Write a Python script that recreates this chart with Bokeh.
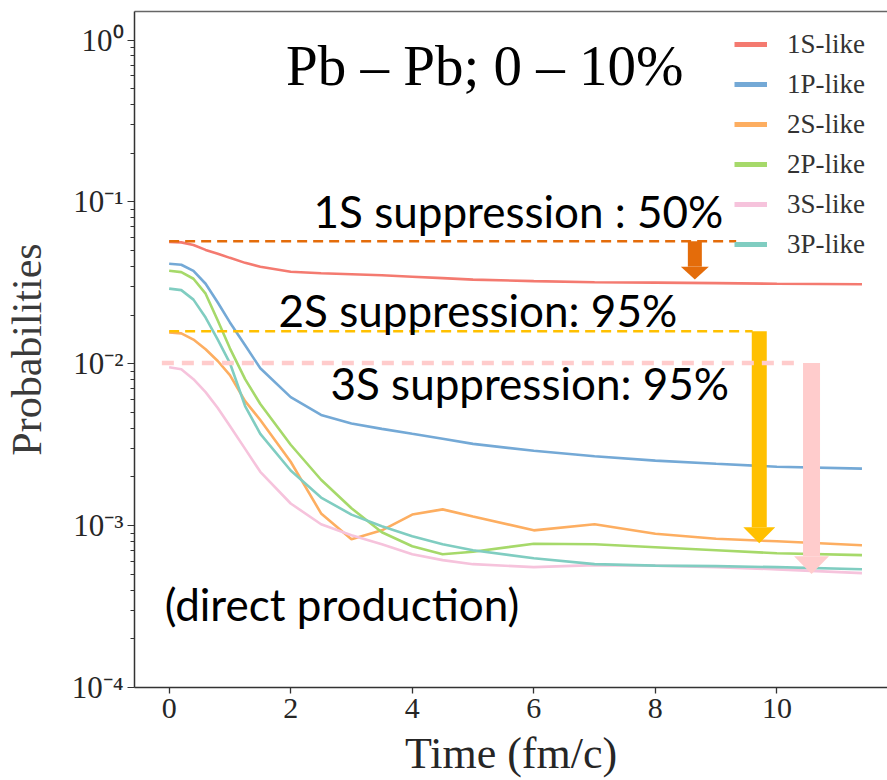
import numpy as np
from bokeh.plotting import figure
from bokeh.models import (Range1d, LinearAxis, FixedTicker, CustomJSTickFormatter,
                          Legend, LegendItem)
from bokeh.core.properties import value
from bokeh.embed import file_html
from bokeh.resources import INLINE

# ---------------- data ----------------
time = [0, 0.2, 0.4, 0.6, 0.8, 1.0, 1.25, 1.5, 2.0, 2.5, 3.0, 3.5, 4.0, 4.5, 5.0,
        6.0, 7.0, 8.0, 9.0, 10.0, 11.4]

s1_like = [0.0566, 0.0562, 0.0542, 0.0505, 0.0478, 0.0451, 0.0420, 0.0397, 0.0370,
           0.0362, 0.0357, 0.0352, 0.0345, 0.0338, 0.0331, 0.0324, 0.0319, 0.0317,
           0.0315, 0.0312, 0.0310]
p1_like = [0.0415, 0.0409, 0.0375, 0.0312, 0.0239, 0.0180, 0.0130, 0.00938, 0.00622,
           0.00483, 0.00428, 0.00396, 0.00369, 0.00344, 0.00320, 0.00290, 0.00268,
           0.00252, 0.00241, 0.00231, 0.00225]
s2_like = [0.0156, 0.0154, 0.0141, 0.0123, 0.0104, 0.00850, 0.00588, 0.00449, 0.00248,
           0.00119, 0.000823, 0.000935, 0.00117, 0.00126, 0.00114, 0.000935, 0.00102,
           0.000890, 0.000829, 0.000800, 0.000756]
p2_like = [0.0375, 0.0368, 0.0335, 0.0271, 0.0185, 0.01245, 0.00803, 0.00564, 0.00316,
           0.00192, 0.00128, 0.000910, 0.000746, 0.000666, 0.000690, 0.000772,
           0.000767, 0.000735, 0.000705, 0.000675, 0.000657]
s3_like = [0.00952, 0.00925, 0.00803, 0.00668, 0.00533, 0.00413, 0.00298, 0.00215,
           0.00137, 0.00102, 0.000871, 0.000767, 0.000666, 0.000612, 0.000578,
           0.000554, 0.000570, 0.000566, 0.000554, 0.000537, 0.000509]
p3_like = [0.0291, 0.0285, 0.0249, 0.0193, 0.0141, 0.0101, 0.00548, 0.00369, 0.00219,
           0.00149, 0.00117, 0.00099, 0.000859, 0.000767, 0.000705, 0.000629,
           0.000578, 0.000566, 0.000562, 0.000554, 0.000538]

series_labels = ["1S-like", "1P-like", "2S-like", "2P-like", "3S-like", "3P-like"]
series_values = [s1_like, p1_like, s2_like, p2_like, s3_like, p3_like]
series_colors = ["#f47a70", "#74a9d6", "#fdae61", "#a6d96a", "#f6c3dc", "#80cdc1"]

# suppression reference levels (initial yields) and arrow tips (final yields)
supp_labels = ["1S suppression : 50%", "2S suppression: 95%", "3S suppression: 95%"]
supp_levels = [0.0571, 0.0159, 0.0101]
supp_tips = [0.0331, 0.000778, 0.000502]
supp_line_start = [0.0, 0.0, -0.12]
supp_line_end = [9.33, 9.60, 10.28]
supp_arrow_x = [8.65, 9.71, 10.57]
supp_colors = ["#e46c0a", "#ffc000", "#ffcccc"]

title_text = "Pb \u2013 Pb; 0 \u2013 10%"
x_ticks = [0, 2, 4, 6, 8, 10]
y_exponents = [-4, -3, -2, -1, 0]

# ---------------- figure ----------------
X0, X1 = -0.57, 11.82
Y0, Y1 = 1e-4, 1.5
W, H = 887, 780
BL, BR, BT, BB = 133, 0, 11, 90
FRAME_W = W - BL - BR
FRAME_H = H - BT - BB

p = figure(width=W, height=H, y_axis_type="log",
           x_range=Range1d(X0, X1), y_range=Range1d(Y0, Y1),
           output_backend="svg", toolbar_location=None,
           min_border_left=BL, min_border_right=BR,
           min_border_top=BT, min_border_bottom=BB)
p.outline_line_color = None
p.xgrid.grid_line_color = None
p.ygrid.grid_line_color = None
p.background_fill_color = "white"
p.border_fill_color = "white"

axis_col = "#333333"
serif = "Liberation Serif"

px_x = FRAME_W / (X1 - X0)
px_dec = FRAME_H / (np.log10(Y1) - np.log10(Y0))

# x axis
xa = p.xaxis[0]
xa.ticker = FixedTicker(ticks=x_ticks, minor_ticks=[])
xa.axis_label = "Time (fm/c)"
xa.axis_label_text_font = serif
xa.axis_label_text_font_size = "44px"
xa.axis_label_text_font_style = "normal"
xa.axis_label_text_color = "#262626"
xa.axis_label_standoff = 8
xa.major_label_text_font = serif
xa.major_label_text_font_size = "30px"
xa.major_label_text_color = "#262626"
xa.major_label_standoff = 5
xa.major_tick_out = 6
xa.major_tick_in = 0
xa.axis_line_color = axis_col
xa.axis_line_width = 1.5
xa.major_tick_line_color = axis_col
xa.major_tick_line_width = 1.3

# y axis
y_ticks = [10.0 ** e for e in y_exponents]
minor = [k * 10.0 ** e for e in range(-4, 0) for k in range(2, 10)]
ya = p.yaxis[0]
ya.ticker = FixedTicker(ticks=y_ticks, minor_ticks=minor)
ya.formatter = CustomJSTickFormatter(code="""
const e = Math.round(Math.log10(tick));
const sup = {'-':'\u207b','0':'\u2070','1':'\u00b9','2':'\u00b2','3':'\u00b3','4':'\u2074',
             '5':'\u2075','6':'\u2076','7':'\u2077','8':'\u2078','9':'\u2079'};
return '10' + String(e).split('').map(c => sup[c]).join('');
""")
ya.axis_label = "Probabilities"
ya.axis_label_text_font = serif
ya.axis_label_text_font_size = "42px"
ya.axis_label_text_font_style = "normal"
ya.axis_label_text_color = "#3a3a3a"
ya.axis_label_standoff = 19
ya.major_label_text_font = serif
ya.major_label_text_font_size = "31px"
ya.major_label_text_color = "#262626"
ya.major_label_standoff = 4
ya.major_tick_out = 7
ya.major_tick_in = 0
ya.minor_tick_out = 4
ya.minor_tick_in = 0
ya.axis_line_color = axis_col
ya.axis_line_width = 1.5
ya.major_tick_line_color = axis_col
ya.minor_tick_line_color = axis_col

# top spine
top = LinearAxis(ticker=FixedTicker(ticks=[]), major_label_text_font_size="0px",
                 major_tick_out=0, major_tick_in=0, minor_tick_out=0, minor_tick_in=0,
                 major_label_standoff=0, axis_line_color="#666666", axis_line_width=1.3)
p.add_layout(top, "above")

# ---------------- curves ----------------
items = []
for lab, vals, col in zip(series_labels, series_values, series_colors):
    p.line(time, vals, line_color=col, line_width=2.6)
    # single-point handle (draws nothing in the plot) used for a thicker legend swatch
    handle = p.line(time[:1], vals[:1], line_color=col, line_width=5)
    items.append(LegendItem(label=lab, renderers=[handle]))

legend = Legend(items=items, location=(600, 423), padding=0, margin=0,
                border_line_color=None, background_fill_alpha=0,
                glyph_width=33, glyph_height=40, label_height=40, spacing=0,
                label_standoff=20, label_text_font=serif,
                label_text_font_size="27px", label_text_color="#333333")
p.add_layout(legend)

# ---------------- suppression guides and arrows ----------------
line_widths = [2.5, 2.5, 4.5]
dashes = ["10 6", "10 6", "12 8"]
shaft_w = [14, 15, 17]
head_w = [28, 32, 35]
head_l = [13, 16, 18]

for i in range(3):
    p.line([supp_line_start[i], supp_line_end[i]], [supp_levels[i], supp_levels[i]],
           line_color=supp_colors[i], line_width=line_widths[i], line_dash=dashes[i])
    xc = supp_arrow_x[i]
    tip = supp_tips[i]
    base = tip * 10 ** (head_l[i] / px_dec)
    p.segment(x0=[xc], y0=[supp_levels[i]], x1=[xc], y1=[base],
              line_color=supp_colors[i], line_width=shaft_w[i], line_cap="butt")
    hw = head_w[i] / 2 / px_x
    p.patch([xc - hw, xc + hw, xc], [base, base, tip],
            fill_color=supp_colors[i], line_color=None)

# ---------------- texts ----------------
ann_font = "Lato"
ann_x = [2.375, 1.80, 2.654]
ann_y = [0.0879, 0.02145, 0.0076]
p.text(x=ann_x, y=ann_y, text=supp_labels, text_font=value(ann_font),
       text_font_size="44px", text_color="black",
       text_baseline="alphabetic", text_align="left")
p.text(x=[-0.074], y=[0.00033], text=["(direct production)"],
       text_font=value(ann_font), text_font_size="44px", text_color="black",
       text_baseline="alphabetic", text_align="left")

# serif in-plot title (drawn as a glyph-less legend entry)
title_handle = p.line(time[:1], s1_like[:1], line_alpha=0)
title_legend = Legend(items=[LegendItem(label=title_text, renderers=[title_handle])],
                      location=(151, 589), padding=0, margin=0,
                      border_line_color=None, background_fill_alpha=0,
                      glyph_width=1, glyph_height=60, label_height=60,
                      label_standoff=0, label_text_font=serif,
                      label_text_font_size="57px", label_text_color="black")
p.add_layout(title_legend)

open("out.html", "w").write(file_html(p, INLINE))
